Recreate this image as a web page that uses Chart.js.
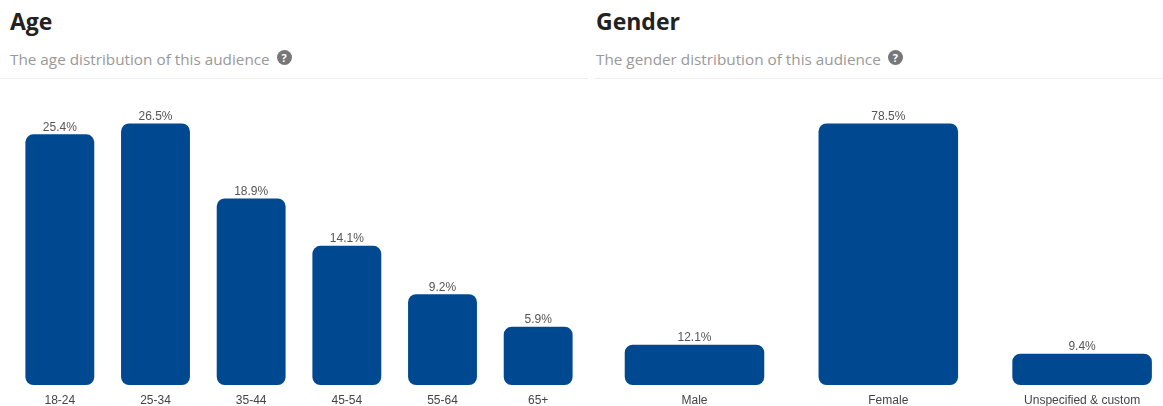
<!DOCTYPE html>
<html>
<head>
<meta charset="utf-8">
<script src="https://cdn.jsdelivr.net/npm/chart.js@4"></script>
<style>
  body { margin: 0; width: 1163px; height: 406px; overflow: hidden; position: relative; background: #fff; font-family: "Open Sans", sans-serif; }
  .title { position: absolute; top: 5px; font-size: 23px; font-weight: 700; color: #222; }
  .sub { position: absolute; top: 49px; font-size: 15.3px; color: #999; }
  .help { display: inline-block; width: 15px; height: 15px; border-radius: 50%; background: #777; color: #fff;
          font-size: 11px; font-weight: 700; text-align: center; line-height: 15px; margin-left: 7px; vertical-align: 3px; }
  .rule { position: absolute; top: 78px; height: 1px; background: #eee; }
  .box { position: absolute; top: 90px; width: 600px; height: 316px; }
</style>
</head>
<body>
<div class="title" style="left:10px">Age</div>
<div class="sub" style="left:10px">The age distribution of this audience<span class="help">?</span></div>
<div class="rule" style="left:0; width:588px"></div>
<div class="title" style="left:596px">Gender</div>
<div class="sub" style="left:596px">The gender distribution of this audience<span class="help">?</span></div>
<div class="rule" style="left:594px; width:569px"></div>

<div class="box" style="left:0"><canvas id="age-chart"></canvas></div>
<div class="box" style="left:590px"><canvas id="gender-chart"></canvas></div>

<script>
const ageLabels = ["18-24", "25-34", "35-44", "45-54", "55-64", "65+"];
const ageValues = [25.4, 26.5, 18.9, 14.1, 9.2, 5.9];
const genderLabels = ["Male", "Female", "Unspecified & custom"];
const genderValues = [12.1, 78.5, 9.4];

const barColor = "#004990";

// draws "xx.x%" above each bar
const valueLabels = {
    id: "valueLabels",
    afterDatasetsDraw(chart) {
        const ctx = chart.ctx;
        const meta = chart.getDatasetMeta(0);
        ctx.save();
        ctx.font = "12px 'Liberation Sans', Arial, sans-serif";
        ctx.fillStyle = "#555";
        ctx.textAlign = "center";
        ctx.textBaseline = "bottom";
        meta.data.forEach((bar, i) => {
            const v = chart.data.datasets[0].data[i];
            ctx.fillText(v.toFixed(1) + "%", bar.x, bar.y - 1);
        });
        ctx.restore();
    }
};

function makeChart(id, labels, values, yMax, padding) {
    const ctx = document.getElementById(id).getContext("2d");
    return new Chart(ctx, {
        type: "bar",
        data: {
            labels: labels,
            datasets: [{
                data: values,
                backgroundColor: barColor,
                borderRadius: 8,
                borderSkipped: false,
                categoryPercentage: 1,
                barPercentage: 0.72,
            }],
        },
        options: {
            responsive: true,
            maintainAspectRatio: false,
            animation: false,
            layout: { padding: padding },
            scales: {
                y: { display: false, min: 0, max: yMax },
                x: {
                    grid: { display: false, drawTicks: false },
                    border: { display: false },
                    ticks: {
                        padding: 8,
                        color: "#444",
                        font: { family: "'Liberation Sans', Arial, sans-serif", size: 12 },
                        maxRotation: 0,
                    },
                    afterFit(scale) { scale.height = 21; },
                },
            },
            plugins: {
                legend: { display: false },
                tooltip: { enabled: false },
            },
        },
        plugins: [valueLabels],
    });
}

makeChart("age-chart", ageLabels, ageValues, 28.94, { top: 9.4, left: 12, right: 14, bottom: 0 });
makeChart("gender-chart", genderLabels, genderValues, 85.7, { top: 9.4, left: 7.6, right: 11, bottom: 0 });
</script>
</body>
</html>
